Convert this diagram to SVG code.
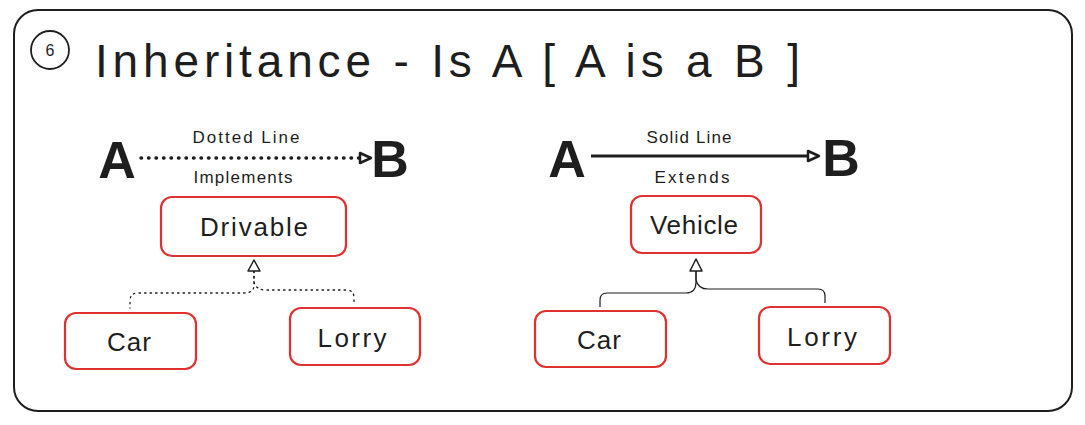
<svg xmlns="http://www.w3.org/2000/svg" width="1085" height="425" viewBox="0 0 1085 425">
<style>
.t{font-family:"Liberation Sans","DejaVu Sans",sans-serif;fill:#1e1e1e;text-anchor:middle}
.box{fill:#fff;stroke:#e03131;stroke-width:2.2}
.big{font-size:52px;font-weight:bold}
.lbl{font-size:17px}
.node{font-size:26px}
.dot{fill:none;stroke:#1e1e1e;stroke-width:1.3;stroke-dasharray:1.5 4;stroke-linecap:round}
.sol{fill:none;stroke:#1e1e1e;stroke-width:1.2}
.tri{fill:#fff;stroke:#1e1e1e;stroke-width:1.5;stroke-linejoin:round}
</style>
<rect width="1085" height="425" fill="#fff"/>
<g id="frame">
<rect x="14" y="10" width="1058" height="401" rx="24" fill="none" stroke="#1e1e1e" stroke-width="2"/>
<circle cx="50" cy="50" r="19" fill="none" stroke="#1e1e1e" stroke-width="1.8"/>
<text class="t" x="50" y="56" style="font-size:16px">6</text>
<text x="95" y="77" textLength="705" lengthAdjust="spacing" style="font-family:'Liberation Sans','DejaVu Sans',sans-serif;font-size:46px;fill:#1e1e1e">Inheritance - Is A [ A is a B ]</text>
</g>
<g id="legend-left">
<text class="t big" x="117" y="178">A</text>
<text class="t big" x="390" y="177">B</text>
<text class="t lbl" x="246" y="143" textLength="107" lengthAdjust="spacing">Dotted Line</text>
<text class="t lbl" x="243" y="183" textLength="99" lengthAdjust="spacing">Implements</text>
</g>
<g id="legend-right">
<text class="t big" x="567" y="177">A</text>
<text class="t big" x="841" y="176">B</text>
<text class="t lbl" x="689" y="143" textLength="85" lengthAdjust="spacing">Solid Line</text>
<text class="t lbl" x="692" y="183" textLength="75" lengthAdjust="spacing">Extends</text>
</g>
<g id="connectors">
<line x1="141" y1="158" x2="362" y2="158" stroke="#1e1e1e" stroke-width="3.5" stroke-dasharray="0.5 7" stroke-linecap="round"/>
<path d="M360 153 L371 158 L360 163 Z" fill="#fff" stroke="#1e1e1e" stroke-width="2.5" stroke-linejoin="round"/>
<line x1="591" y1="156" x2="810" y2="156" stroke="#1e1e1e" stroke-width="2.8"/>
<path d="M808 151 L819 156 L808 161 Z" fill="#fff" stroke="#1e1e1e" stroke-width="2.5" stroke-linejoin="round"/>
<path class="dot" d="M254 271 V285 Q254 293 244 293 H138 Q130 293 130 301 V308"/>
<path class="dot" d="M254 271 V282 Q256 290 266 290 H346 Q354 290 354 298 V303"/>
<path class="tri" d="M254 260 L260 271 L248 271 Z"/>
<path class="sol" d="M696 271 V282 Q696 293 686 293 H607 Q600 293 600 300 V307"/>
<path class="sol" d="M696 271 V280 Q698 289 708 289 H818 Q825 289 825 296 V303"/>
<path class="tri" d="M696 259 L702 271 L690 271 Z"/>
</g>
<g id="drivable"><rect class="box" x="161" y="197" width="185" height="59" rx="11"/><text class="t node" x="254" y="236" textLength="108" lengthAdjust="spacing">Drivable</text></g>
<g id="car-left"><rect class="box" x="65" y="313" width="131" height="56" rx="11"/><text class="t node" x="129" y="351" textLength="44" lengthAdjust="spacing">Car</text></g>
<g id="lorry-left"><rect class="box" x="290" y="308" width="130" height="57" rx="11"/><text class="t node" x="352" y="347" textLength="69" lengthAdjust="spacing">Lorry</text></g>
<g id="vehicle"><rect class="box" x="631" y="196" width="130" height="57" rx="11"/><text class="t node" x="694" y="234" textLength="88" lengthAdjust="spacing">Vehicle</text></g>
<g id="car-right"><rect class="box" x="535" y="311" width="131" height="56" rx="11"/><text class="t node" x="599" y="349" textLength="44" lengthAdjust="spacing">Car</text></g>
<g id="lorry-right"><rect class="box" x="759" y="307" width="131" height="57" rx="11"/><text class="t node" x="822" y="346" textLength="70" lengthAdjust="spacing">Lorry</text></g>
</svg>
